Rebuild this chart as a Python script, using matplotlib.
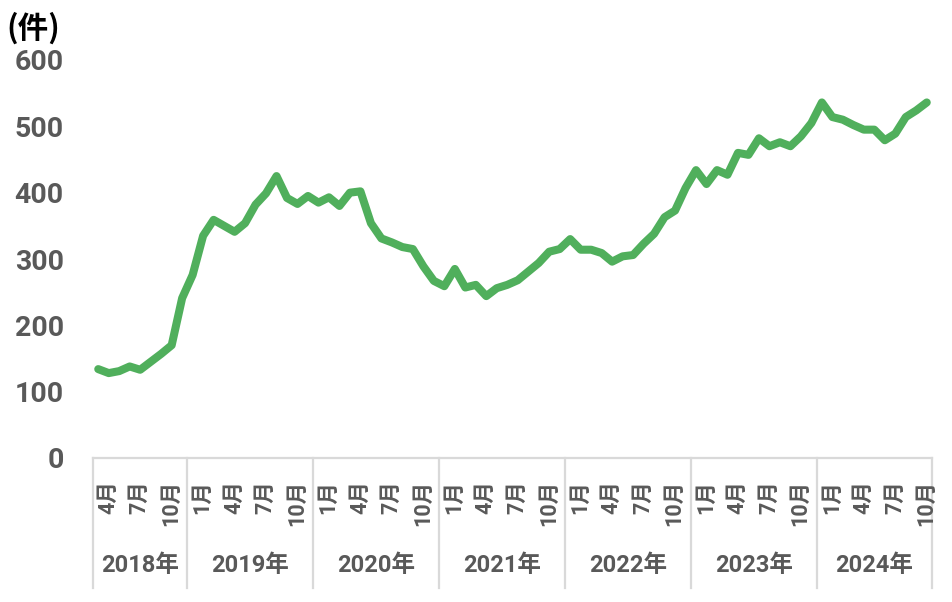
import matplotlib
matplotlib.use('Agg')
import matplotlib.pyplot as plt
from matplotlib.transforms import offset_copy

# category structure: year groups and the months they cover
years = [2018, 2019, 2020, 2021, 2022, 2023, 2024]
first_month = [4, 1, 1, 1, 1, 1, 1]
last_month = [12, 12, 12, 12, 12, 12, 11]
labeled_months = [1, 4, 7, 10]

# monthly counts (件), Apr 2018 - Nov 2024
counts = [134, 128, 131, 138, 133, 145, 157, 170, 241,
          276, 335, 359, 350, 341, 354, 382, 399, 425, 392, 383, 395,
          385, 393, 380, 400, 402, 354, 331, 325, 318, 315, 289, 267,
          259, 285, 257, 261, 244, 256, 261, 268, 281, 294, 311, 315,
          330, 314, 314, 309, 296, 304, 306, 323, 338, 363, 373, 407,
          434, 413, 434, 427, 460, 457, 482, 470, 476, 470, 485, 505,
          536, 514, 510, 502, 495, 495, 479, 489, 514, 524, 536]

months = []
for y, m0, m1 in zip(years, first_month, last_month):
    for m in range(m0, m1 + 1):
        months.append((y, m))
x = list(range(len(counts)))

label_font = ['Roboto', 'Noto Sans CJK JP', 'DejaVu Sans']
gray = '#595959'
box_color = '#d9d9d9'

fig = plt.figure(figsize=(9.52, 6.02), dpi=100)
ax = fig.add_axes([93 / 952, 1 - 458 / 602, (932 - 93) / 952, (458 - 60) / 602])

ax.plot(x, counts, color='#50AF5C', lw=5.8, solid_capstyle='round', solid_joinstyle='round')

ax.set_xlim(-0.5, len(counts) - 0.5)
ax.set_ylim(0, 600)
ax.set_yticks(range(0, 601, 100))
ax.set_yticklabels([str(v) for v in range(0, 601, 100)], family=label_font,
                   fontsize=20.5, fontweight='bold', color=gray)
ax.tick_params(axis='y', length=0, pad=21)
ax.set_xticks([])

for s in ['top', 'right', 'left']:
    ax.spines[s].set_visible(False)
ax.spines['bottom'].set_color(box_color)
ax.spines['bottom'].set_linewidth(1.6)

trans = ax.get_xaxis_transform()
month_trans = offset_copy(trans, fig=fig, x=10, y=0, units='dots')

# month labels
for i, (y, m) in enumerate(months):
    if m in labeled_months:
        ax.text(i, -22 / 398, f'{m}月', transform=month_trans, rotation=90,
                ha='center', va='top', family=label_font, fontsize=15.5,
                fontweight='bold', color=gray)

# year groups with separators
start = 0
bounds = [-0.5]
for y, m0, m1 in zip(years, first_month, last_month):
    n = m1 - m0 + 1
    ax.text(start + (n - 1) / 2, -107 / 398, f'{y}年', transform=trans,
            ha='center', va='center', family=label_font, fontsize=17,
            fontweight='bold', color=gray)
    start += n
    bounds.append(start - 0.5)

for b in bounds:
    ax.plot([b, b], [0, -130 / 398], transform=trans, color=box_color,
            lw=1.6, clip_on=False)

fig.text(6 / 952, 1 - 28 / 602, '(件)', ha='left', va='center',
         family=['Noto Sans CJK JP', 'DejaVu Sans'], fontsize=22,
         fontweight='bold', color='black')

fig.savefig('out.png', dpi=100)
